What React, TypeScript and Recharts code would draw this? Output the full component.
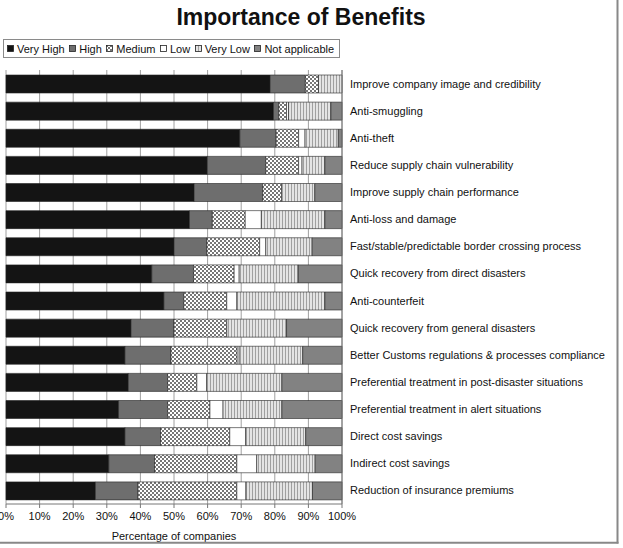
import React from 'react';
import { BarChart, Bar, XAxis, YAxis, CartesianGrid } from 'recharts';

const categories = [
  'Improve  company image and credibility',
  'Anti-smuggling',
  'Anti-theft',
  'Reduce supply chain vulnerability',
  'Improve supply chain performance',
  'Anti-loss and damage',
  'Fast/stable/predictable border crossing process',
  'Quick recovery from direct disasters',
  'Anti-counterfeit',
  'Quick recovery from general disasters',
  'Better Customs regulations & processes compliance',
  'Preferential treatment in post-disaster situations',
  'Preferential treatment in alert situations',
  'Direct cost savings',
  'Indirect cost savings',
  'Reduction of insurance premiums',
];

const veryHigh = [78.6, 79.6, 69.6, 59.9, 56.0, 54.6, 50.0, 43.4, 47.0, 37.2, 35.4, 36.4, 33.5, 35.4, 30.6, 26.6];
const high = [10.5, 1.6, 10.8, 17.4, 20.4, 6.8, 9.8, 12.4, 5.9, 12.8, 13.7, 11.7, 14.6, 10.6, 13.6, 12.7];
const medium = [3.9, 2.3, 6.7, 9.8, 5.6, 9.8, 15.7, 12.1, 12.8, 15.7, 19.7, 8.7, 12.6, 20.6, 24.5, 29.4];
const low = [0, 0.6, 1.9, 1.0, 0, 4.8, 1.8, 1.5, 3.0, 0, 0.6, 2.9, 3.9, 4.7, 5.9, 2.7];
const veryLow = [7.0, 12.6, 9.9, 6.8, 9.9, 18.9, 13.8, 17.6, 26.2, 17.8, 18.9, 22.4, 17.5, 17.9, 17.4, 19.8];
const notApplicable = [0, 3.3, 1.1, 5.1, 8.1, 5.1, 8.9, 13.0, 5.1, 16.5, 11.7, 17.9, 17.9, 10.8, 8.0, 8.8];

const xTicks = [0, 10, 20, 30, 40, 50, 60, 70, 80, 90, 100];

const seriesNames = ['Very High', 'High', 'Medium', 'Low', 'Very Low', 'Not applicable'];
const seriesKeys = ['vh', 'h', 'm', 'l', 'vl', 'na'];
const seriesFills = ['#141414', '#6e6e6e', 'url(#patMed)', '#ffffff', 'url(#patVL)', '#828282'];

const data = categories.map((c, i) => ({
  category: c,
  vh: veryHigh[i],
  h: high[i],
  m: medium[i],
  l: low[i],
  vl: veryLow[i],
  na: notApplicable[i],
}));

const FONT = '"Liberation Sans", Arial, sans-serif';

const CatTick = (props: any) => {
  const { x, y, payload } = props;
  return (
    <text x={x} y={y} dy={4} textAnchor="start" fontFamily={FONT} fontSize={11} fill="#111">
      {payload.value}
    </text>
  );
};

export default function App() {
  return (
    <div style={{ position: 'relative', width: 623, height: 548, background: '#fff', fontFamily: FONT }}>
      <style>{`body{margin:0;}`}</style>
      <BarChart
        width={623}
        height={548}
        data={data}
        layout="vertical"
        margin={{ top: 70, left: 6, right: 11, bottom: 4 }}
        barSize={18}
      >
        <defs>
          <pattern id="patMed" width="4" height="4" patternUnits="userSpaceOnUse">
            <rect width="4" height="4" fill="#ffffff" />
            <rect x="0" y="0" width="2" height="2" fill="#777" />
            <rect x="2" y="2" width="2" height="2" fill="#777" />
          </pattern>
          <pattern id="patVL" width="3" height="10" patternUnits="userSpaceOnUse">
            <rect width="3" height="10" fill="#e4e4e4" />
            <rect x="0" y="0" width="1" height="10" fill="#a0a0a0" />
          </pattern>
        </defs>
        <CartesianGrid horizontal={false} vertical={true} stroke="#a0a0a0" strokeWidth={1} />
        <XAxis
          type="number"
          domain={[0, 100]}
          ticks={xTicks}
          tickFormatter={(v: number) => `${v}%`}
          tickSize={4}
          tickMargin={4}
          axisLine={{ stroke: '#777' }}
          tickLine={{ stroke: '#777' }}
          tick={{ fontSize: 11, fill: '#111', fontFamily: FONT }}
          height={40}
          interval={0}
          label={{ value: 'Percentage of companies', position: 'insideBottom', offset: 4, fontSize: 11, fill: '#111', fontFamily: FONT }}
        />
        <XAxis
          xAxisId="top"
          type="number"
          domain={[0, 100]}
          orientation="top"
          height={0}
          tick={false}
          tickLine={false}
          axisLine={{ stroke: '#a0a0a0' }}
        />
        <YAxis
          type="category"
          dataKey="category"
          orientation="right"
          width={270}
          interval={0}
          tickSize={6}
          tickMargin={2}
          tickLine={false}
          axisLine={{ stroke: '#777' }}
          tick={<CatTick />}
        />
        {seriesKeys.map((k, i) => (
          <Bar
            key={k}
            dataKey={k}
            name={seriesNames[i]}
            stackId="a"
            fill={seriesFills[i]}
            stroke="#222"
            strokeWidth={0.6}
            isAnimationActive={false}
          />
        ))}
      </BarChart>

      <div
        style={{
          position: 'absolute',
          left: 3,
          top: 39,
          width: 337,
          height: 19,
          boxSizing: 'border-box',
          border: '1px solid #8a8a8a',
          display: 'flex',
          alignItems: 'center',
          paddingLeft: 3,
          fontSize: 11,
          color: '#111',
          fontFamily: FONT,
          whiteSpace: 'nowrap',
        }}
      >
        {seriesNames.map((n, i) => (
          <div key={n} style={{ display: 'flex', alignItems: 'center', marginRight: 4.5 }}>
            <svg width={7} height={7} style={{ marginRight: 3, display: 'block' }}>
              <rect x={0.5} y={0.5} width={6} height={6} fill={seriesFills[i]} stroke="#222" strokeWidth={0.8} />
            </svg>
            <span>{n}</span>
          </div>
        ))}
      </div>

      <svg width={623} height={548} style={{ position: 'absolute', left: 0, top: 0, pointerEvents: 'none' }}>
        <text x={301} y={25} textAnchor="middle" fontFamily={FONT} fontWeight="bold" fontSize={23} fill="#111">
          Importance of Benefits
        </text>
        <line x1={617.5} y1={0} x2={617.5} y2={543.5} stroke="#888" strokeWidth={2} />
        <line x1={0} y1={542.7} x2={618.5} y2={542.7} stroke="#888" strokeWidth={2} />
      </svg>
    </div>
  );
}
